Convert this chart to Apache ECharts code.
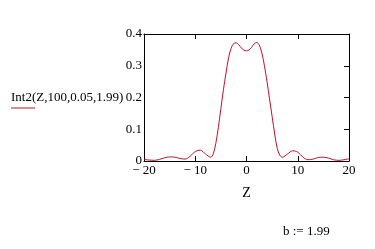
<!DOCTYPE html>
<html><head><meta charset="utf-8">
<script src="https://cdn.jsdelivr.net/npm/echarts@6/dist/echarts.min.js"></script>
<style>html,body{margin:0;padding:0;background:#fff}#c{width:375px;height:249px}</style>
</head><body><div id="c"></div>
<script>
var zValues = [-20,-19,-18,-17,-16,-15,-14,-13,-12,-11,-10,-9,-8,-7,-6.5,-6,-5.5,-5,-4.5,-4,-3.5,-3,-2.5,-2,-1.5,-1,-0.5,0,0.5,1,1.5,2,2.5,3,3.5,4,4.5,5,5.5,6,6.5,7,8,9,10,11,12,13,14,15,16,17,18,19,20];
var intValues = [0.005,0.003,0.002,0.005,0.010,0.013,0.012,0.008,0.006,0.015,0.030,0.034,0.022,0.012,0.022,0.055,0.105,0.165,0.225,0.277,0.325,0.355,0.370,0.372,0.366,0.356,0.349,0.347,0.350,0.358,0.369,0.373,0.365,0.340,0.300,0.250,0.195,0.140,0.085,0.040,0.018,0.012,0.022,0.032,0.028,0.012,0.004,0.006,0.011,0.012,0.009,0.004,0.002,0.004,0.007];
var xTicks = [-20,-10,0,10,20];
var yTicks = [0,0.1,0.2,0.3,0.4];
var seriesName = 'Int2(Z,100,0.05,1.99)';
var xName = 'Z';
var noteText = 'b := 1.99';

var F = 'Liberation Serif';
var chart = echarts.init(document.getElementById('c'));
var data = zValues.map(function(z,i){return [z,intValues[i]];});
function fmtX(v){ return v < 0 ? '\u2212 ' + Math.abs(v) : String(v); }
var axLine = {show:true,onZero:false,lineStyle:{color:'#000',width:1}};
chart.setOption({
  animation:false,
  backgroundColor:'#fff',
  grid:{left:144,right:26,top:34,bottom:88},
  xAxis:[{
    type:'value',min:xTicks[0],max:xTicks[xTicks.length-1],interval:10,
    axisLine:axLine,
    axisTick:{inside:true,length:5,lineStyle:{color:'#000'}},
    splitLine:{show:false},
    axisLabel:{color:'#000',fontFamily:F,fontSize:13,margin:3,formatter:fmtX},
    name:xName,nameLocation:'middle',nameGap:25,nameTextStyle:{color:'#000',fontFamily:F,fontSize:14}
  },{
    type:'value',position:'top',min:xTicks[0],max:xTicks[xTicks.length-1],interval:10,
    axisLine:axLine,
    axisTick:{inside:true,length:5,lineStyle:{color:'#000'}},
    axisLabel:{show:false},splitLine:{show:false}
  }],
  yAxis:[{
    type:'value',min:yTicks[0],max:yTicks[yTicks.length-1],interval:0.1,
    axisLine:axLine,
    axisTick:{show:false},
    splitLine:{show:false},
    axisLabel:{color:'#000',fontFamily:F,fontSize:13,margin:2,formatter:function(v){return v===0?'0':v.toFixed(1);}}
  },{
    type:'value',position:'right',min:yTicks[0],max:yTicks[yTicks.length-1],interval:0.1,
    axisLine:axLine,
    axisTick:{show:true,inside:true,length:5,lineStyle:{color:'#000'}},
    axisLabel:{show:false},splitLine:{show:false}
  }],
  series:[{
    type:'line',name:seriesName,data:data,smooth:0.35,showSymbol:false,
    lineStyle:{color:'#c0102a',width:1},clip:true
  }],
  graphic:[
    {type:'text',left:11,top:91,style:{text:seriesName,font:'13px "Liberation Serif"',fill:'#000'}},
    {type:'line',shape:{x1:11,y1:108,x2:35,y2:108},style:{stroke:'#c0102a',lineWidth:1}},
    {type:'text',left:283,top:225,style:{text:noteText,font:'13px "Liberation Serif"',fill:'#000'}}
  ]
});
</script></body></html>
